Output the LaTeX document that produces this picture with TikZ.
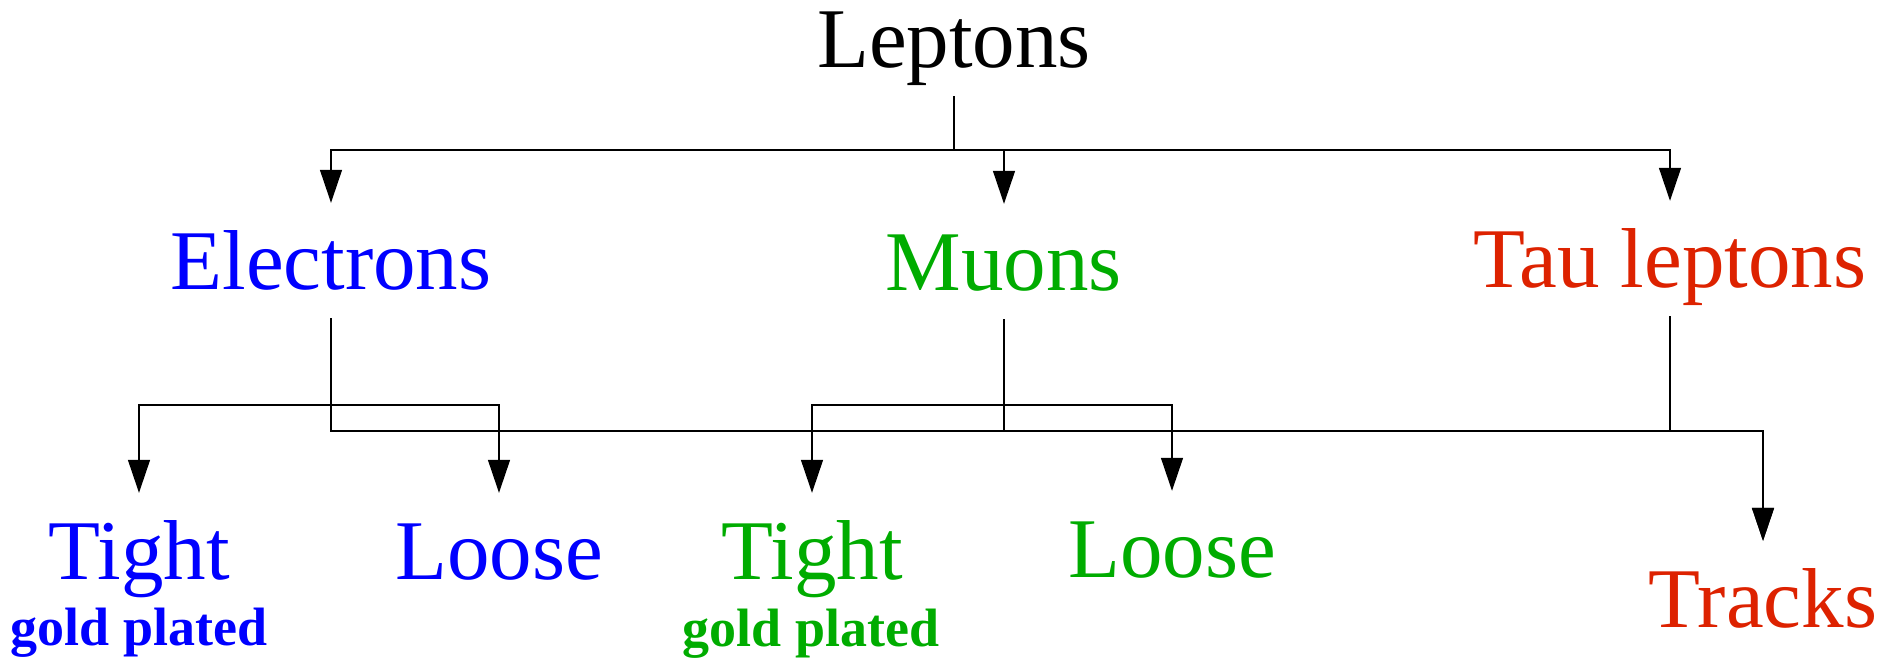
\documentclass[tikz,border=0pt]{standalone}
\usepackage{fontspec}
\setmainfont{Liberation Serif}
\usetikzlibrary{arrows.meta}
\definecolor{eblue}{RGB}{0,0,255}
\definecolor{mgreen}{RGB}{0,172,0}
\definecolor{tred}{RGB}{221,34,0}
\tikzset{
  lbl/.style={anchor=base, inner xsep=0pt, inner ysep=16pt, text height=70pt, text depth=13pt,
    font=\fontsize{85}{85}\selectfont},
  sub/.style={anchor=base, inner sep=0pt, font=\fontsize{54}{54}\selectfont\bfseries},
  con/.style={line width=1.4pt, black},
  arr/.style={con, -{Triangle[length=33pt,width=22pt]}},
}
\begin{document}
\begin{tikzpicture}[x=1pt,y=-1pt]
\useasboundingbox (0,0) rectangle (1893,657);
\node[lbl] (lep) at (954,67) {Leptons};
\node[lbl, text=eblue] (el) at (331,289) {Electrons};
\node[lbl, text=mgreen] (mu) at (1004,290) {Muons};
\node[lbl, text=tred] (tau) at (1670,287) {Tau leptons};
\node[lbl, text=eblue] (et) at (139,579) {Tight};
\node[lbl, text=eblue] (el2) at (499,579) {Loose};
\node[lbl, text=mgreen] (mt) at (812,579) {Tight};
\node[lbl, text=mgreen] (ml) at (1172,577) {Loose};
\node[lbl, text=tred] (tr) at (1763,627) {Tracks};
\node[sub, text=eblue] (eg) at (139,645) {gold plated};
\node[sub, text=mgreen] (mg) at (811,646) {gold plated};
\coordinate (topbus) at (0,150);
\coordinate (bus) at (0,431);
\coordinate (brk) at (0,405);
% Leptons
\draw[arr] (lep.south) -- (lep.south |- topbus) -| (el.north);
\draw[arr] (lep.south) -- (lep.south |- topbus) -| (mu.north);
\draw[arr] (lep.south) -- (lep.south |- topbus) -| (tau.north);
% Electrons
\draw[arr] (el.south) -- (el.south |- brk) -| (et.north);
\draw[arr] (el.south) -- (el.south |- brk) -| (el2.north);
\draw[arr] (el.south) -- (el.south |- bus) -| (tr.north);
% Muons
\draw[arr] (mu.south) -- (mu.south |- brk) -| (mt.north);
\draw[arr] (mu.south) -- (mu.south |- brk) -| (ml.north);
\draw[con] (mu.south) -- (mu.south |- bus);
% Tau
\draw[arr] (tau.south) -- (tau.south |- bus) -| (tr.north);
\end{tikzpicture}
\end{document}
